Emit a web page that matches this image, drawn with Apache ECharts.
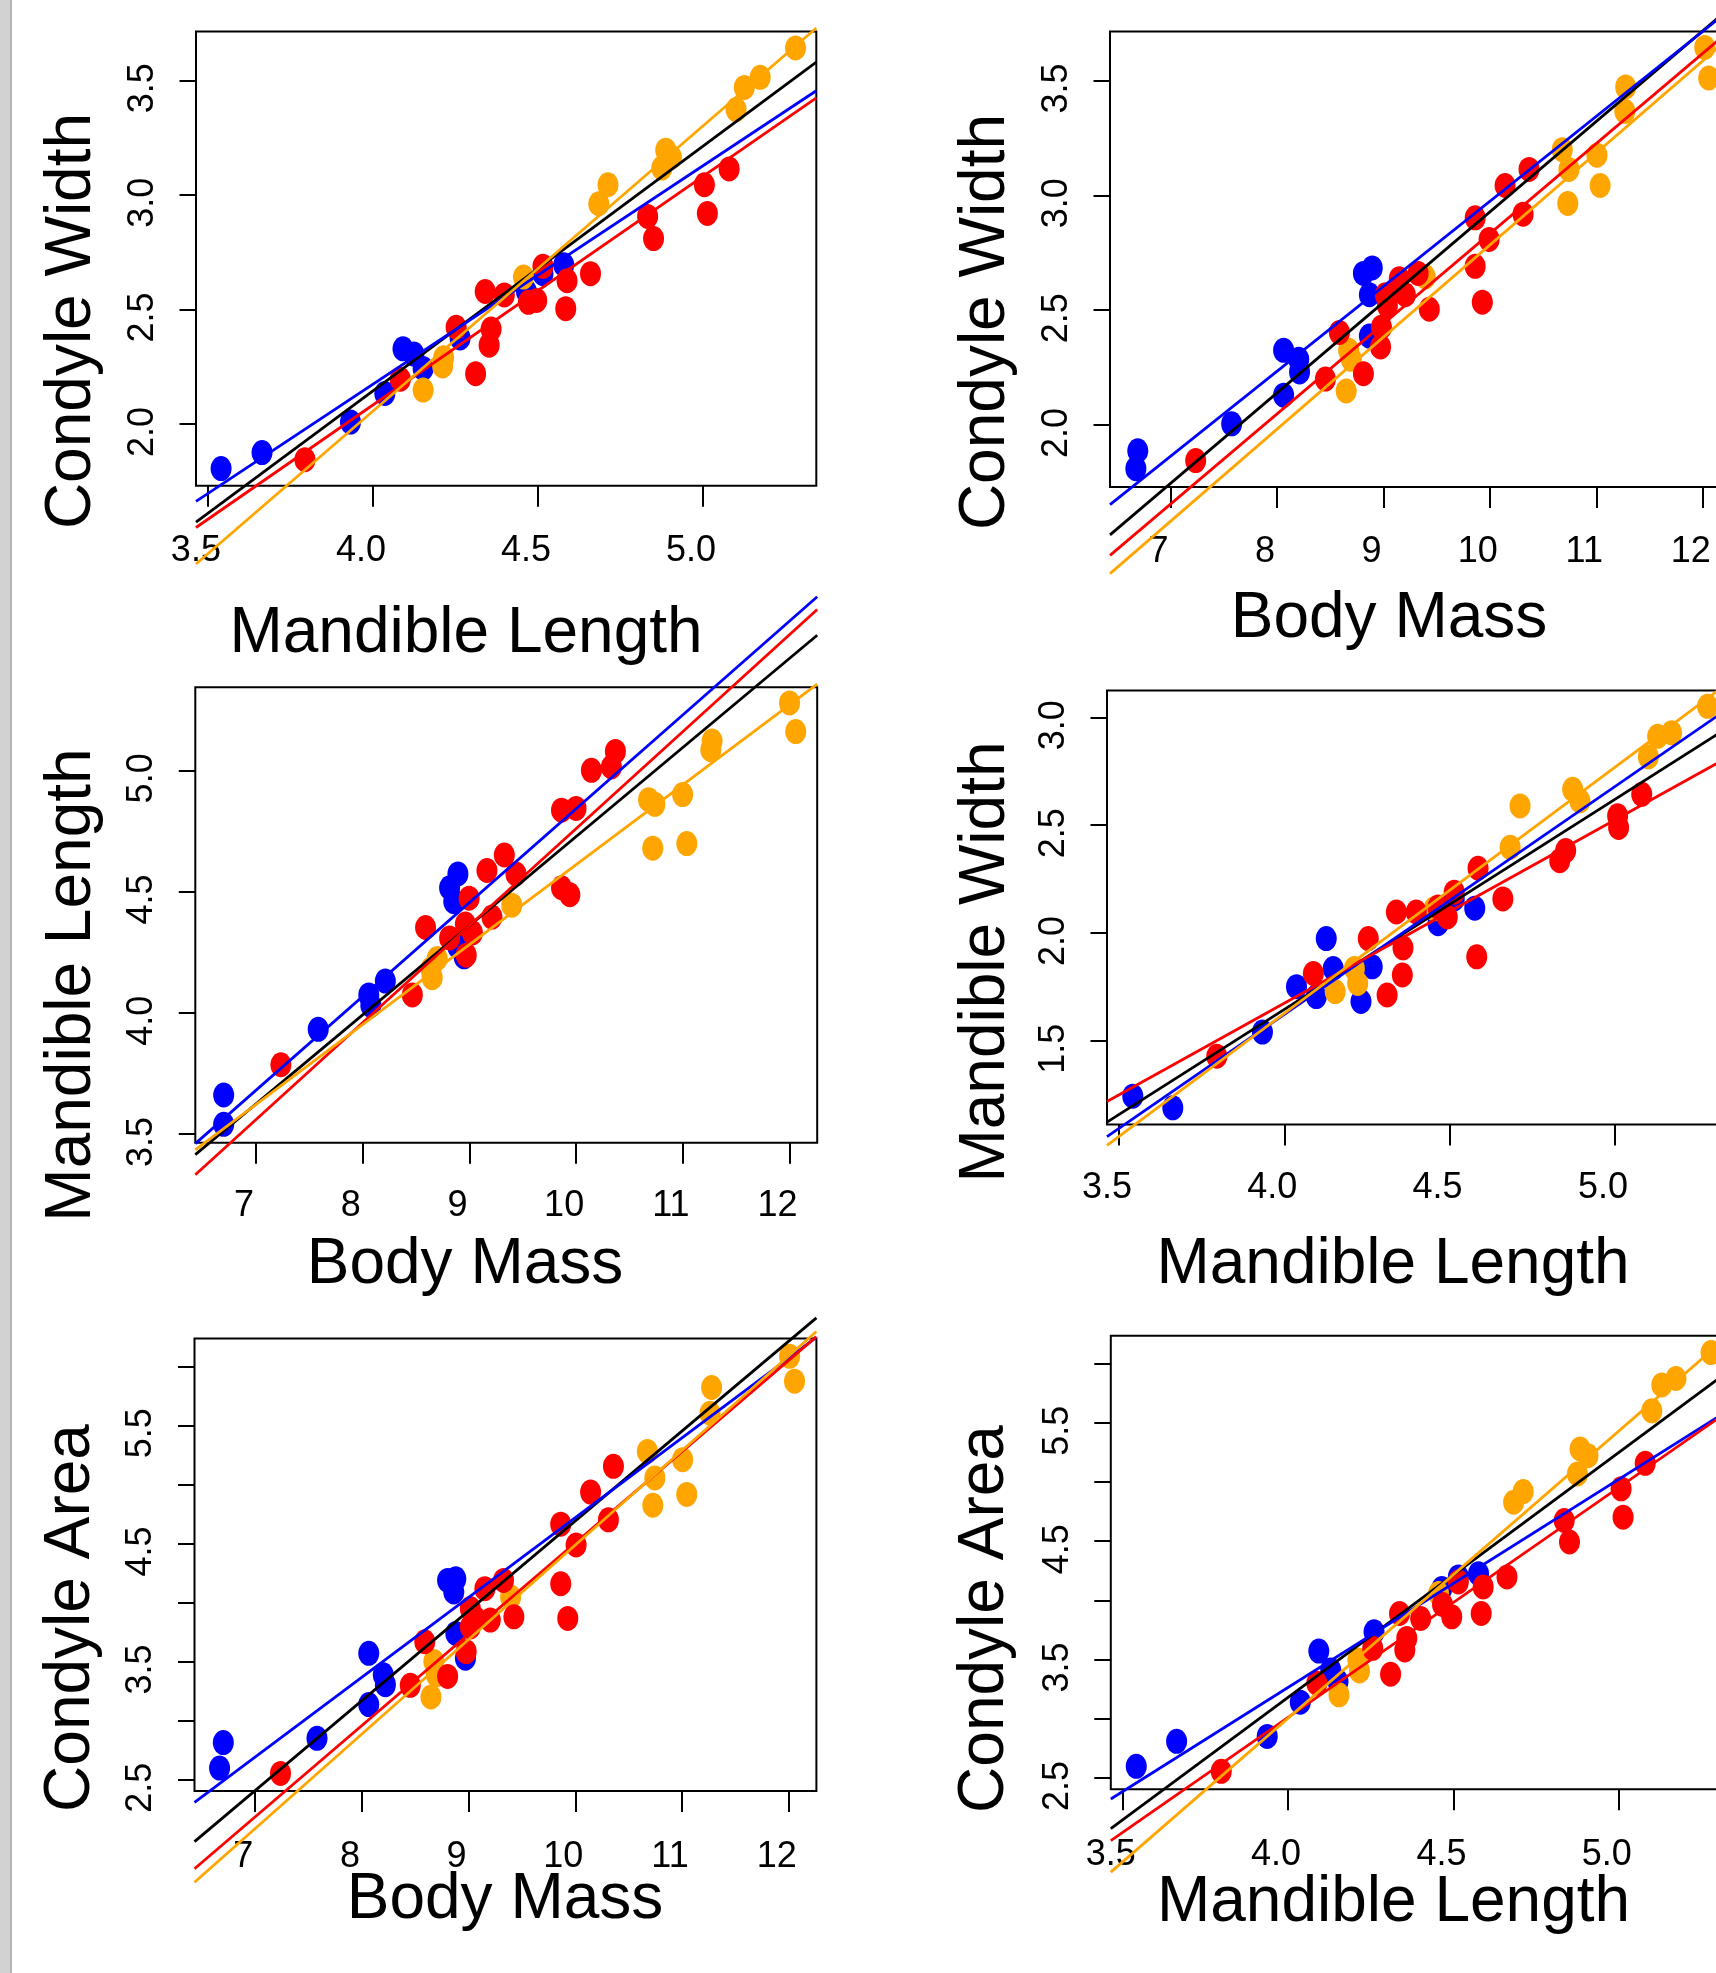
<!DOCTYPE html>
<html><head><meta charset="utf-8">
<script src="https://cdn.jsdelivr.net/npm/echarts@6/dist/echarts.min.js"></script>
<style>html,body{margin:0;padding:0;background:#fff}#c{width:1716px;height:1973px}</style>
</head><body><div id="c"></div><script>
// ---------- tick values ----------
const bmTicks = [7, 8, 9, 10, 11, 12];
const mlTicks = [3.5, 4.0, 4.5, 5.0];
const cwTicks = [2.0, 2.5, 3.0, 3.5];
const mwTicks = [1.5, 2.0, 2.5, 3.0];
const caTicks = [2.5, 3.0, 3.5, 4.0, 4.5, 5.0, 5.5, 6.0];
const caLabels = [2.5, 3.5, 4.5, 5.5];

// ---------- Panel 1: Mandible Length (x) vs Condyle Width (y) ----------
const p1Blue = [[3.540,1.805],[3.664,1.875],[3.932,2.008],[4.036,2.133],[4.091,2.328],[4.124,2.305],[4.152,2.242],[4.264,2.375],[4.465,2.578],[4.515,2.656],[4.578,2.695]];
const p1Orange = [[4.152,2.148],[4.214,2.289],[4.211,2.253],[4.456,2.641],[4.684,2.961],[4.712,3.044],[4.875,3.117],[4.887,3.195],[4.904,3.164],[5.100,3.372],[5.125,3.469],[5.173,3.513],[5.280,3.641]];
const p1Red = [[3.794,1.844],[4.083,2.195],[4.252,2.422],[4.311,2.219],[4.340,2.578],[4.398,2.563],[4.358,2.414],[4.352,2.344],[4.471,2.531],[4.496,2.539],[4.515,2.688],[4.588,2.625],[4.584,2.503],[4.659,2.656],[4.832,2.906],[4.850,2.809],[5.004,3.044],[5.013,2.919],[5.079,3.113]];
// fitted lines: [intercept, slope]
const p1Fit = {black:[-2.132,1.069], blue:[-1.643,0.954], red:[-1.909,0.998], orange:[-2.924,1.245]};

// ---------- Panel 2: Body Mass (x) vs Condyle Width (y) ----------
const p2Blue = [[6.674,1.810],[6.692,1.888],[7.574,2.005],[8.062,2.325],[8.062,2.130],[8.204,2.286],[8.212,2.231],[8.812,2.660],[8.895,2.684],[8.868,2.567],[8.868,2.387]];
const p2Orange = [[8.650,2.148],[8.699,2.286],[8.673,2.325],[9.393,2.645],[10.680,3.199],[10.743,3.113],[10.732,2.965],[11.006,3.175],[11.036,3.043],[11.276,3.472],[11.268,3.366],[12.019,3.644],[12.056,3.511]];
const p2Red = [[7.236,1.845],[8.455,2.200],[8.586,2.403],[8.812,2.223],[8.973,2.340],[8.981,2.426],[9.018,2.567],[9.037,2.520],[9.149,2.637],[9.206,2.567],[9.326,2.660],[9.431,2.504],[9.862,2.691],[9.862,2.902],[9.929,2.535],[9.993,2.808],[10.143,3.043],[10.312,2.918],[10.368,3.113]];
const p2Fit = {black:[-1.012,0.394], blue:[-0.726,0.370], red:[-1.092,0.3925], orange:[-1.226,0.401]};

// ---------- Panel 3: Body Mass (x) vs Mandible Length (y) ----------
const p3Blue = [[6.697,3.540],[6.697,3.661],[7.583,3.932],[8.057,4.074],[8.076,4.031],[8.212,4.131],[8.814,4.516],[8.892,4.573],[8.853,4.459],[8.950,4.231],[8.892,4.273]];
const p3Orange = [[8.651,4.145],[8.698,4.224],[8.640,4.181],[9.397,4.444],[10.679,4.879],[10.738,4.860],[10.718,4.679],[10.998,4.900],[11.037,4.698],[11.274,5.121],[11.262,5.085],[12.000,5.278],[12.058,5.160]];
const p3Red = [[7.233,3.786],[8.465,4.074],[8.589,4.352],[8.814,4.309],[8.970,4.238],[8.997,4.473],[8.962,4.366],[9.028,4.330],[9.164,4.587],[9.211,4.395],[9.327,4.651],[9.436,4.573],[9.863,4.516],[9.941,4.487],[9.863,4.836],[9.999,4.843],[10.143,5.000],[10.330,5.014],[10.368,5.078]];
const p3Fit = {black:[1.051,0.3676], blue:[0.972,0.387], red:[0.760,0.400], orange:[1.316,0.3295]};

// ---------- Panel 4: Mandible Length (x) vs Mandible Width (y) ----------
const p4Blue = [[3.542,1.243],[3.663,1.189],[3.934,1.540],[4.037,1.751],[4.097,1.705],[4.127,1.974],[4.148,1.835],[4.232,1.682],[4.266,1.843],[4.465,2.043],[4.514,2.158],[4.576,2.115]];
const p4Orange = [[4.154,1.728],[4.212,1.835],[4.222,1.766],[4.453,2.112],[4.713,2.589],[4.683,2.397],[4.872,2.666],[4.894,2.612],[5.101,2.817],[5.129,2.912],[5.171,2.928],[5.280,3.051]];
const p4Red = [[3.796,1.428],[4.088,1.812],[4.254,1.974],[4.311,1.712],[4.339,2.097],[4.399,2.097],[4.359,1.931],[4.357,1.805],[4.465,2.120],[4.493,2.074],[4.514,2.189],[4.586,2.300],[4.582,1.889],[4.661,2.158],[4.833,2.335],[4.851,2.382],[5.008,2.543],[5.011,2.489],[5.081,2.643]];
const p4Fit = {black:[-2.253,0.9745], blue:[-2.606,1.057], red:[-1.726,0.850], orange:[-2.941,1.142]};

// ---------- Panel 5: Body Mass (x) vs Condyle Area (y) ----------
const p5Blue = [[6.666,2.598],[6.701,2.814],[7.579,2.850],[8.064,3.136],[8.064,3.570],[8.200,3.388],[8.220,3.304],[8.803,4.187],[8.880,4.201],[8.861,4.089],[8.880,3.738],[8.970,3.528]];
const p5Orange = [[8.647,3.200],[8.674,3.500],[8.698,3.388],[9.393,4.047],[10.675,5.279],[10.745,5.055],[10.726,4.823],[11.005,5.209],[11.044,4.915],[11.277,5.820],[11.262,5.602],[12.008,6.084],[12.054,5.874]];
const p5Red = [[7.237,2.553],[8.453,3.299],[8.589,3.668],[8.803,3.374],[8.977,3.584],[9.016,3.949],[9.063,3.865],[9.016,3.794],[9.152,4.117],[9.203,3.851],[9.327,4.187],[9.424,3.879],[9.863,4.663],[10.007,4.487],[9.863,4.159],[9.929,3.865],[10.143,4.935],[10.310,4.700],[10.357,5.153]];
const p5Fit = {black:[-2.919,0.761], blue:[-2.036,0.6755], red:[-3.225,0.773], orange:[-3.513,0.800]};

// ---------- Panel 6: Mandible Length (x) vs Condyle Area (y) ----------
const p6Blue = [[3.541,2.598],[3.663,2.809],[3.937,2.851],[4.037,3.140],[4.093,3.572],[4.129,3.412],[4.151,3.314],[4.260,3.735],[4.465,4.100],[4.515,4.198],[4.576,4.226]];
const p6Orange = [[4.154,3.202],[4.211,3.496],[4.216,3.404],[4.455,4.058],[4.682,4.829],[4.711,4.919],[4.883,5.279],[4.907,5.222],[4.875,5.068],[5.100,5.601],[5.130,5.820],[5.173,5.874],[5.279,6.093]];
const p6Red = [[3.798,2.556],[4.087,3.300],[4.256,3.595],[4.310,3.376],[4.337,3.889],[4.359,3.679],[4.353,3.581],[4.401,3.847],[4.467,3.965],[4.495,3.861],[4.515,4.156],[4.590,4.114],[4.584,3.889],[4.662,4.198],[4.835,4.675],[4.851,4.493],[5.007,4.942],[5.013,4.703],[5.080,5.158]];
const p6Fit = {black:[-5.095,2.069], blue:[-3.767,1.758], red:[-4.756,1.942], orange:[-6.699,2.426]};

// ---------- layout / style ----------
const COLORS = {blue:'#0000FF', orange:'#FFA500', red:'#FF0000', black:'#000000'};
const FONT = '"Liberation Sans", Arial, Helvetica, sans-serif';
const R_BM = [6.431, 12.259], R_ML = [3.464, 5.343], R_CW = [1.730, 3.713], R_MW = [1.112, 3.124], R_CA = [2.405, 6.235];
const fmt1 = v => v.toFixed(1), fmt0 = v => String(Math.round(v));

const panels = [
  {grid:{left:196, top:31.5, width:620.3, height:454.3}, xr:R_ML, yr:R_CW, xt:mlTicks, yt:cwTicks, yl:cwTicks, xf:fmt1, yf:fmt1, xm:47,
   pts:{blue:p1Blue, orange:p1Orange, red:p1Red}, fit:p1Fit,
   xTitle:['Mandible Length',466,634], yTitle:['Condyle Width',72,321]},
  {grid:{left:1110, top:31.6, width:620.3, height:455.4}, xr:R_BM, yr:R_CW, xt:bmTicks, yt:cwTicks, yl:cwTicks, xf:fmt0, yf:fmt1, xm:47,
   pts:{blue:p2Blue, orange:p2Orange, red:p2Red}, fit:p2Fit,
   xTitle:['Body Mass',1389,619], yTitle:['Condyle Width',986,322]},
  {grid:{left:195.3, top:687.2, width:621.9, height:455.6}, xr:R_BM, yr:R_ML, xt:bmTicks, yt:mlTicks, yl:mlTicks, xf:fmt0, yf:fmt1, xm:45,
   pts:{blue:p3Blue, orange:p3Orange, red:p3Red}, fit:p3Fit,
   xTitle:['Body Mass',465,1265], yTitle:['Mandible Length',72,985]},
  {grid:{left:1107, top:690.6, width:621.4, height:433.8}, xr:R_ML, yr:R_MW, xt:mlTicks, yt:mwTicks, yl:mwTicks, xf:fmt1, yf:fmt1, xm:46,
   pts:{blue:p4Blue, orange:p4Orange, red:p4Red}, fit:p4Fit,
   xTitle:['Mandible Length',1393,1265], yTitle:['Mandible Width',986,962]},
  {grid:{left:194.5, top:1338.5, width:621.9, height:452.4}, xr:R_BM, yr:R_CA, xt:bmTicks, yt:caTicks, yl:caLabels, xf:fmt0, yf:fmt1, xm:48,
   pts:{blue:p5Blue, orange:p5Orange, red:p5Red}, fit:p5Fit,
   xTitle:['Body Mass',505,1900.5], yTitle:['Condyle Area',71,1618]},
  {grid:{left:1110.8, top:1335.8, width:621.4, height:453.4}, xr:R_ML, yr:R_CA, xt:mlTicks, yt:caTicks, yl:caLabels, xf:fmt1, yf:fmt1, xm:48,
   pts:{blue:p6Blue, orange:p6Orange, red:p6Red}, fit:p6Fit,
   xTitle:['Mandible Length',1393.5,1903.5],  yTitle:['Condyle Area',985.5,1619]}
];

const grids = [], xAxes = [], yAxes = [], series = [], graphics = [];
graphics.push({type:'rect', shape:{x:0,y:0,width:11,height:1973}, style:{fill:'#d2d2d2'}, z:0});
graphics.push({type:'rect', shape:{x:10,y:0,width:2,height:1973}, style:{fill:'#b4b4b4'}, z:0});

panels.forEach((p, i) => {
  grids.push(Object.assign({show:true, borderColor:'#000', borderWidth:2, backgroundColor:'transparent',
    containLabel:false, outerBoundsMode:'none'}, p.grid));
  xAxes.push({type:'value', gridIndex:i, min:p.xr[0], max:p.xr[1], position:'bottom',
    axisLine:{show:false}, splitLine:{show:false},
    axisTick:{show:true, inside:false, length:21, customValues:p.xt, lineStyle:{color:'#000', width:2}},
    axisLabel:{show:true, customValues:p.xt, formatter:p.xf, margin:p.xm, color:'#000', fontSize:36, fontFamily:FONT, padding:[0,24,0,0]}});
  yAxes.push({type:'value', gridIndex:i, min:p.yr[0], max:p.yr[1], position:'left',
    axisLine:{show:false}, splitLine:{show:false},
    axisTick:{show:true, inside:false, length:16.5, customValues:p.yt, lineStyle:{color:'#000', width:2}},
    axisLabel:{show:true, customValues:p.yl, formatter:p.yf, rotate:90, margin:35, color:'#000', fontSize:36, fontFamily:FONT, padding:[0,16,0,0]}});
  ['blue','orange','red'].forEach(c => {
    series.push({type:'scatter', xAxisIndex:i, yAxisIndex:i, data:p.pts[c], symbol:'circle', symbolSize:[21,25],
      itemStyle:{color:COLORS[c], opacity:1}, z:2, silent:true});
  });
  ['black','blue','red','orange'].forEach(c => {
    const [a, b] = p.fit[c];
    const x0 = p.xr[0], x1 = p.xr[1];
    series.push({type:'line', xAxisIndex:i, yAxisIndex:i, data:[[x0, a + b*x0], [x1, a + b*x1]],
      symbol:'none', clip:false, lineStyle:{color:COLORS[c], width:2.8}, z:3, silent:true});
  });
  graphics.push({type:'text', x:p.xTitle[1], y:p.xTitle[2], z:10,
    style:{text:p.xTitle[0], font:'64px '+FONT, fill:'#000', align:'center', verticalAlign:'middle', textAlign:'center', textVerticalAlign:'middle'}});
  graphics.push({type:'text', x:p.yTitle[1], y:p.yTitle[2], rotation:Math.PI/2, z:10,
    style:{text:p.yTitle[0], font:'64px '+FONT, fill:'#000', align:'center', verticalAlign:'middle', textAlign:'center', textVerticalAlign:'middle'}});
});

const chart = echarts.init(document.getElementById('c'), null, {renderer:'canvas', width:1716, height:1973});
chart.setOption({
  animation:false, backgroundColor:'#ffffff',
  textStyle:{fontFamily:FONT},
  grid:grids, xAxis:xAxes, yAxis:yAxes, series:series, graphic:graphics
});
</script></body></html>
